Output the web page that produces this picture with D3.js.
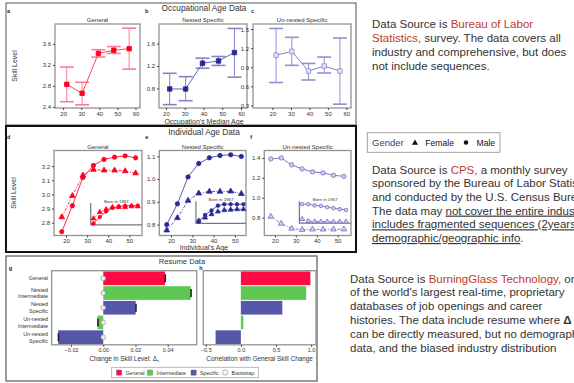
<!DOCTYPE html>
<html>
<head>
<meta charset="utf-8">
<script src="https://cdn.jsdelivr.net/npm/d3@7"></script>
<style>
    body { margin: 0; background: #fff; }
    svg { display: block; font-family: "Liberation Sans", Arial, Helvetica, sans-serif; }
</style>
</head>
<body>
<svg id="chart" width="574" height="383"></svg>
<script>
// ---- occupational age data (panels a-c) ----
const occAges = [22, 30.5, 39.5, 48, 56.5];
const occGeneral = [2.83, 2.66, 3.42, 3.48, 3.51];
const occGeneralLo = [2.50, 2.44, 3.35, 3.42, 3.12];
const occGeneralHi = [3.16, 2.87, 3.49, 3.55, 3.90];
const occNested = [0.79, 0.79, 1.25, 1.29, 1.44];
const occNestedLo = [0.51, 0.58, 1.16, 1.21, 1.00];
const occNestedHi = [1.07, 1.01, 1.34, 1.37, 1.87];
const occUnnested = [1.09, 1.15, 0.84, 0.92, 0.84];
const occUnnestedLo = [0.66, 0.93, 0.70, 0.81, 0.32];
const occUnnestedHi = [1.51, 1.37, 0.96, 1.06, 1.36];
const occXTicks = [20, 30, 40, 50, 60];

// ---- individual age data (panels d-f) ----
const indAges = [18, 23, 28, 33, 38, 43, 48, 53];
const genMale = [2.737, 2.92, 3.12, 3.205, 3.247, 3.263, 3.272, 3.258];
const genFemale = [2.84, 2.99, 3.135, 3.175, 3.17, 3.17, 3.165, 3.15];
const nestMale = [0.80, 0.891, 1.009, 1.068, 1.093, 1.103, 1.106, 1.099];
const nestFemale = [0.775, 0.829, 0.905, 0.937, 0.945, 0.945, 0.946, 0.935];
const unMale = [1.39, 1.40, 1.33, 1.29, 1.26, 1.25, 1.225, 1.215];
const unFemale = [0.81, 0.74, 0.69, 0.678, 0.682, 0.682, 0.682, 0.682];
const indXTicks = [20, 30, 40, 50];

// born in 1967 insets
const insetAges = [33, 36, 39, 42, 45, 48, 51, 54];
const genMale67 = [2.795, 2.84, 2.88, 2.905, 2.915, 2.92, 2.92, 2.92];
const genFemale67 = [2.83, 2.875, 2.895, 2.91, 2.91, 2.91, 2.915, 2.915];
const nestMale67 = [0.813, 0.842, 0.862, 0.883, 0.889, 0.889, 0.889, 0.889];
const nestFemale67 = [0.817, 0.83, 0.845, 0.857, 0.863, 0.865, 0.867, 0.867];
const unMale67 = [0.935, 0.935, 0.922, 0.918, 0.905, 0.895, 0.885, 0.877];
const unFemale67 = [0.785, 0.765, 0.76, 0.758, 0.758, 0.758, 0.758, 0.758];

// ---- resume data (panels g-h) ----
const resumeCats = ["General", "Nested Intermediate", "Nested Specific", "Un-nested Intermediate", "Un-nested Specific"];
const resumeGroup = ["General", "Intermediate", "Specific", "Intermediate", "Specific"];
const resumeDelta = [0.0383, 0.0543, 0.0201, -0.0035, -0.028];
const resumeDeltaCI = [0.0003, 0.0003, 0.0003, 0.0003, 0.0003];
const resumeBootstrap = [0, 0, 0, 0, 0];
const resumeCorr = [0.99, 0.93, 0.59, 0.035, -0.36];
const deltaTicks = [-0.02, 0, 0.02, 0.04];
const corrTicks = [-0.5, 0, 0.5, 1.0];
const legendItems = ["General", "Intermediate", "Specific", "Bootstrap"];

const groupColor = { General: "#ff0a45", Intermediate: "#5fc853", Specific: "#5557a8" };
const textCol = "#333";
const linkCol = "#c0392b";
const fontFam = "Liberation Sans, Arial, Helvetica, sans-serif";

const svg = d3.select("#chart");
svg.append("rect").attr("width", 574).attr("height", 383).attr("fill", "#fff");

// block borders
svg.append("rect").attr("x", 6).attr("y", 3).attr("width", 350).attr("height", 122)
    .attr("fill", "none").attr("stroke", "#555").attr("stroke-width", 1);
svg.append("rect").attr("x", 6).attr("y", 126).attr("width", 350).attr("height", 126)
    .attr("fill", "none").attr("stroke", "#111").attr("stroke-width", 2);
svg.append("rect").attr("x", 6).attr("y", 256).attr("width", 311).attr("height", 125)
    .attr("fill", "none").attr("stroke", "#666").attr("stroke-width", 1.3);

function addText(x, y, str, size, opts = {}) {
    return svg.append("text")
        .attr("x", x).attr("y", y)
        .attr("font-size", size)
        .attr("fill", opts.fill || textCol)
        .attr("text-anchor", opts.anchor || "start")
        .attr("font-weight", opts.weight || "normal")
        .text(str);
}

function styleAxis(ax) {
    ax.attr("font-size", 6).attr("font-family", fontFam);
    ax.select(".domain").remove();
    ax.selectAll("line").attr("stroke", "#444");
    ax.selectAll("text").attr("fill", "#333");
}

function frame(p) {
    svg.append("rect")
        .attr("x", p.x0).attr("y", p.y0)
        .attr("width", p.x1 - p.x0).attr("height", p.y1 - p.y0)
        .attr("fill", "none").attr("stroke", "#939393").attr("stroke-width", 1.3);
}

// block titles and shared labels
addText(204, 10.5, "Occupational Age Data", 8.3, { anchor: "middle" });
addText(204, 135, "Individual Age Data", 8.3, { anchor: "middle" });
addText(182, 264, "Resume Data", 7.6, { anchor: "middle" });
addText(204, 123.5, "Occupation's Median Age", 7, { anchor: "middle" });
addText(204, 250, "Individual's  Age", 7, { anchor: "middle" });
svg.append("text").attr("transform", "translate(17,66) rotate(-90)")
    .attr("font-size", 7).attr("fill", textCol).attr("text-anchor", "middle").text("Skill Level");
svg.append("text").attr("transform", "translate(16,193) rotate(-90)")
    .attr("font-size", 7).attr("fill", textCol).attr("text-anchor", "middle").text("Skill Level");

// ---- panels a-c ----
const occPanels = [
    { tag: "a", title: "General", x0: 55, x1: 140, xDom: [15.5, 62.5], yDom: [2.38, 3.98],
      yTicks: [2.4, 2.8, 3.2, 3.6], vals: occGeneral, lo: occGeneralLo, hi: occGeneralHi,
      mark: "#ff0022", markFill: "#ff0022", line: "#ff4466", err: "#ff7a95" },
    { tag: "b", title: "Nested Specific", x0: 159, x1: 247, xDom: [16.3, 63.2], yDom: [0.45, 1.95],
      yTicks: [0.8, 1.2, 1.6], vals: occNested, lo: occNestedLo, hi: occNestedHi,
      mark: "#27278f", markFill: "#27278f", line: "#6a6abd", err: "#8484c9" },
    { tag: "c", title: "Un-nested Specific", x0: 253, x1: 351, xDom: [9.5, 62.5], yDom: [0.26, 1.58],
      yTicks: [0.3, 0.6, 0.9, 1.2, 1.5], vals: occUnnested, lo: occUnnestedLo, hi: occUnnestedHi,
      mark: "#8a8ad2", markFill: "#e4e4f6", line: "#8282cc", err: "#9090d2" }
];

occPanels.forEach((p, pi) => {
    p.y0 = 24; p.y1 = 108;
    const x = d3.scaleLinear().domain(p.xDom).range([p.x0, p.x1]);
    const y = d3.scaleLinear().domain(p.yDom).range([p.y1, p.y0]);
    frame(p);

    const ay = svg.append("g").attr("transform", `translate(${p.x0},0)`)
        .call(d3.axisLeft(y).tickValues(p.yTicks).tickSize(2).tickPadding(2).tickFormat(d3.format(".1f")));
    styleAxis(ay);
    const ax = svg.append("g").attr("transform", `translate(0,${p.y1})`)
        .call(d3.axisBottom(x).tickValues(occXTicks).tickSize(2).tickPadding(1.5));
    styleAxis(ax);

    addText((p.x0 + p.x1) / 2, 22, p.title, 6, { anchor: "middle" });
    addText(p.x0 - [48, 14, 2][pi], 13, p.tag, 5.5, { fill: "#223", weight: "bold" });

    const pts = occAges.map((a, i) => ({ a, v: p.vals[i], lo: p.lo[i], hi: p.hi[i] }));
    const cap = 7;
    pts.forEach(d => {
        const cx = x(d.a);
        svg.append("line").attr("x1", cx).attr("x2", cx).attr("y1", y(d.lo)).attr("y2", y(d.hi))
            .attr("stroke", p.err).attr("stroke-width", 1);
        [d.lo, d.hi].forEach(e => {
            svg.append("line").attr("x1", cx - cap).attr("x2", cx + cap).attr("y1", y(e)).attr("y2", y(e))
                .attr("stroke", p.err).attr("stroke-width", 1.6);
        });
    });
    svg.append("path").datum(pts)
        .attr("d", d3.line().x(d => x(d.a)).y(d => y(d.v)))
        .attr("fill", "none").attr("stroke", p.line).attr("stroke-width", 1);
    svg.selectAll(null).data(pts).enter().append("path")
        .attr("transform", d => `translate(${x(d.a)},${y(d.v)})`)
        .attr("d", d3.symbol(d3.symbolSquare, 20))
        .attr("fill", p.markFill).attr("stroke", p.mark).attr("stroke-width", 0.8);
});

// ---- panels d-f ----
const indPanels = [
    { tag: "d", title: "General", x0: 54, x1: 142, xDom: [14.3, 56], yDom: [2.71, 3.31],
      yTicks: [2.8, 2.9, 3.0, 3.1, 3.2], male: genMale, female: genFemale,
      male67: genMale67, female67: genFemale67, insetTop: 2.94, insetBot: 2.785,
      mark: "#ff0022", markFill: "#ff0022", line: "#ff2a4a" },
    { tag: "e", title: "Nested Specific", x0: 159.3, x1: 246, xDom: [14.5, 55.2], yDom: [0.752, 1.125],
      yTicks: [0.8, 0.9, 1.0, 1.1], male: nestMale, female: nestFemale,
      male67: nestMale67, female67: nestFemale67, insetTop: 0.902, insetBot: 0.805,
      mark: "#28289a", markFill: "#28289a", line: "#5a5ab4" },
    { tag: "f", title: "Un-nested Specific", x0: 264.3, x1: 351, xDom: [14.9, 56.4], yDom: [0.62, 1.475],
      yTicks: [0.8, 1.0, 1.2, 1.4], male: unMale, female: unFemale,
      male67: unMale67, female67: unFemale67, insetTop: 0.965, insetBot: 0.745,
      mark: "#6f6fc2", markFill: "#cfcfee", line: "#7a7ac6" }
];

function drawSeries(x, y, ages, vals, p, female, size) {
    const pts = ages.map((a, i) => ({ a, v: vals[i] }));
    svg.append("path").datum(pts)
        .attr("d", d3.line().x(d => x(d.a)).y(d => y(d.v)))
        .attr("fill", "none").attr("stroke", p.line).attr("stroke-width", 1)
        .attr("stroke-dasharray", female ? "3,1.5,1,1.5" : null);
    svg.selectAll(null).data(pts).enter().append("path")
        .attr("transform", d => `translate(${x(d.a)},${y(d.v)})`)
        .attr("d", d3.symbol(female ? d3.symbolTriangle : d3.symbolCircle, size))
        .attr("fill", p.markFill).attr("stroke", p.mark).attr("stroke-width", 0.8);
}

indPanels.forEach((p, pi) => {
    p.y0 = 150.5; p.y1 = 235.5;
    const x = d3.scaleLinear().domain(p.xDom).range([p.x0, p.x1]);
    const y = d3.scaleLinear().domain(p.yDom).range([p.y1, p.y0]);
    frame(p);

    const ay = svg.append("g").attr("transform", `translate(${p.x0},0)`)
        .call(d3.axisLeft(y).tickValues(p.yTicks).tickSize(2).tickPadding(2).tickFormat(d3.format(".1f")));
    styleAxis(ay);
    const ax = svg.append("g").attr("transform", `translate(0,${p.y1})`)
        .call(d3.axisBottom(x).tickValues(indXTicks).tickSize(2).tickPadding(1.5));
    styleAxis(ax);

    addText((p.x0 + p.x1) / 2, 148.5, p.title, 6, { anchor: "middle" });
    addText(p.x0 - [47, 14, 14][pi], 138.5, p.tag, 5.5, { fill: "#223", weight: "bold" });

    drawSeries(x, y, indAges, p.female, p, true, 14);
    drawSeries(x, y, indAges, p.male, p, false, 15);

    // born in 1967 inset
    const ix = x(31.7);
    svg.append("path")
        .attr("d", `M${ix},${y(p.insetTop)}V${y(p.insetBot)}H${p.x1}`)
        .attr("fill", "none").attr("stroke", "#777").attr("stroke-width", 1.2);
    addText((ix + p.x1) / 2, y(p.insetTop) - 0.3, "Born in 1967", 4.4, { anchor: "middle" });
    drawSeries(x, y, insetAges, p.female67, p, true, 10);
    drawSeries(x, y, insetAges, p.male67, p, false, 10);
});

// ---- panels g-h ----
const band = d3.scaleBand().domain(resumeCats).range([271.2, 344.3]).paddingInner(0.07).paddingOuter(0.02);
const barPanels = [
    { tag: "g", x0: 51.7, x1: 196.7, xDom: [-0.032, 0.058], vals: resumeDelta, ticks: deltaTicks,
      fmt: d3.format(".2f"), label: "Change in Skill Level: " },
    { tag: "h", x0: 203.3, x1: 316, xDom: [-0.535, 1.07], vals: resumeCorr, ticks: corrTicks,
      fmt: d3.format(".1f"), label: "Correlation with General Skill Change" }
];

barPanels.forEach((p, pi) => {
    p.y0 = 270.7; p.y1 = 344.8;
    const x = d3.scaleLinear().domain(p.xDom).range([p.x0, p.x1]);
    frame(p);
    const ax = svg.append("g").attr("transform", `translate(0,${p.y1})`)
        .call(d3.axisBottom(x).tickValues(p.ticks).tickSize(2).tickPadding(1.5)
            .tickFormat(d => d3.format(".2f")(d) === "-0.00" ? p.fmt(0) : p.fmt(d)));
    styleAxis(ax);
    ax.attr("font-size", 5.5);

    resumeCats.forEach((c, i) => {
        const v = p.vals[i];
        svg.append("rect")
            .attr("x", x(Math.min(0, v))).attr("y", band(c))
            .attr("width", Math.abs(x(v) - x(0))).attr("height", band.bandwidth())
            .attr("fill", groupColor[resumeGroup[i]]);
    });

    if (pi === 0) {
        resumeCats.forEach((c, i) => {
            const cy = band(c) + band.bandwidth() / 2;
            svg.append("circle").attr("cx", x(resumeBootstrap[i])).attr("cy", cy).attr("r", 2.3)
                .attr("fill", "#f2f2f2").attr("stroke", "#9a9a9a").attr("stroke-width", 0.8);
            const v = resumeDelta[i], ci = resumeDeltaCI[i];
            svg.append("rect")
                .attr("x", x(v - ci)).attr("y", cy - 4)
                .attr("width", Math.max(1.6, x(v + ci) - x(v - ci))).attr("height", 8)
                .attr("fill", "#222");
            const words = c.split(" ");
            const t = svg.append("text").attr("x", 48).attr("font-size", 5.4)
                .attr("fill", textCol).attr("text-anchor", "end");
            if (words.length === 1) {
                t.attr("y", cy + 2).text(words[0]);
            } else {
                t.append("tspan").attr("x", 48).attr("y", cy - 1.4).text(words[0]);
                t.append("tspan").attr("x", 48).attr("y", cy + 5.4).text(words[1]);
            }
        });
    }

    const lab = addText((p.x0 + p.x1) / 2, 360.5, p.label, 6.4, { anchor: "middle" });
    if (pi === 0) {
        lab.append("tspan").text("Δ");
        lab.append("tspan").attr("font-size", 4).attr("dy", 1.5).text("s");
    }
    addText(p.x0 - [43, 4][pi], 270.3, p.tag, 5.5, { fill: "#223", weight: "bold" });
});

// resume legend
svg.append("rect").attr("x", 111.7).attr("y", 367.3).attr("width", 146.6).attr("height", 10.4)
    .attr("fill", "#fff").attr("stroke", "#aaa").attr("stroke-width", 0.8);
const legX = [116.5, 147.5, 191, 222.6];
legendItems.forEach((name, i) => {
    if (name === "Bootstrap") {
        svg.append("circle").attr("cx", legX[i] + 2.5).attr("cy", 372.5).attr("r", 2.6)
            .attr("fill", "#fff").attr("stroke", "#888").attr("stroke-width", 0.7);
    } else {
        svg.append("rect").attr("x", legX[i]).attr("y", 370).attr("width", 5.2).attr("height", 5.2)
            .attr("fill", groupColor[name]).attr("stroke", "#555").attr("stroke-width", 0.3);
    }
    addText(legX[i] + 9, 374.5, name, 5.3);
});

// ---- right-hand notes ----
function para(x, y0, lines, size, lh) {
    lines.forEach((parts, li) => {
        const t = svg.append("text").attr("x", x).attr("y", y0 + li * lh)
            .attr("font-size", size).attr("fill", textCol);
        parts.forEach(pt => {
            const s = t.append("tspan").text(pt.t);
            if (pt.red) s.attr("fill", linkCol);
            if (pt.u) s.style("text-decoration", "underline");
            if (pt.b) s.attr("font-weight", "bold");
        });
    });
}

para(372, 28, [
    [{ t: "Data Source is " }, { t: "Bureau of Labor", red: true }],
    [{ t: "Statistics,", red: true }, { t: " survey. The data covers all" }],
    [{ t: "industry and comprehensive, but does" }],
    [{ t: "not include sequences." }]
], 11.5, 14.1);

// gender legend
svg.append("rect").attr("x", 367.3).attr("y", 132.7).attr("width", 132.7).attr("height", 19.6)
    .attr("fill", "#fff").attr("stroke", "#999").attr("stroke-width", 0.9);
addText(372, 146, "Gender", 9.5, { fill: "#3a3f6e" });
svg.append("path").attr("transform", "translate(415,143)")
    .attr("d", d3.symbol(d3.symbolTriangle, 16)).attr("fill", "#111");
addText(425.3, 146, "Female", 8.6, { fill: "#111" });
svg.append("path").attr("transform", "translate(466,142.6)")
    .attr("d", d3.symbol(d3.symbolCircle, 16)).attr("fill", "#111");
addText(476.5, 146, "Male", 8.6, { fill: "#111" });

para(372, 173.5, [
    [{ t: "Data Source is " }, { t: "CPS,", red: true }, { t: " a monthly survey" }],
    [{ t: "sponsored by the Bureau of Labor Statistics" }],
    [{ t: "and conducted by the U.S. Census Bureau." }],
    [{ t: "The data may " }, { t: "not cover the entire industry,", u: true }],
    [{ t: "includes fragmented sequences (2years),", u: true }],
    [{ t: "demographic/geographic info", u: true }, { t: "." }]
], 11.5, 13.7);

para(350, 282.5, [
    [{ t: "Data Source is " }, { t: "BurningGlass Technology,", red: true }, { t: " one" }],
    [{ t: "of the world's largest real-time, proprietary" }],
    [{ t: "databases of job openings and career" }],
    [{ t: "histories. The data include resume where " }, { t: "Δ", b: true }],
    [{ t: "can be directly measured, but no demographic" }],
    [{ t: "data, and the biased industry distribution" }]
], 11.5, 13.9);
</script>
</body>
</html>
